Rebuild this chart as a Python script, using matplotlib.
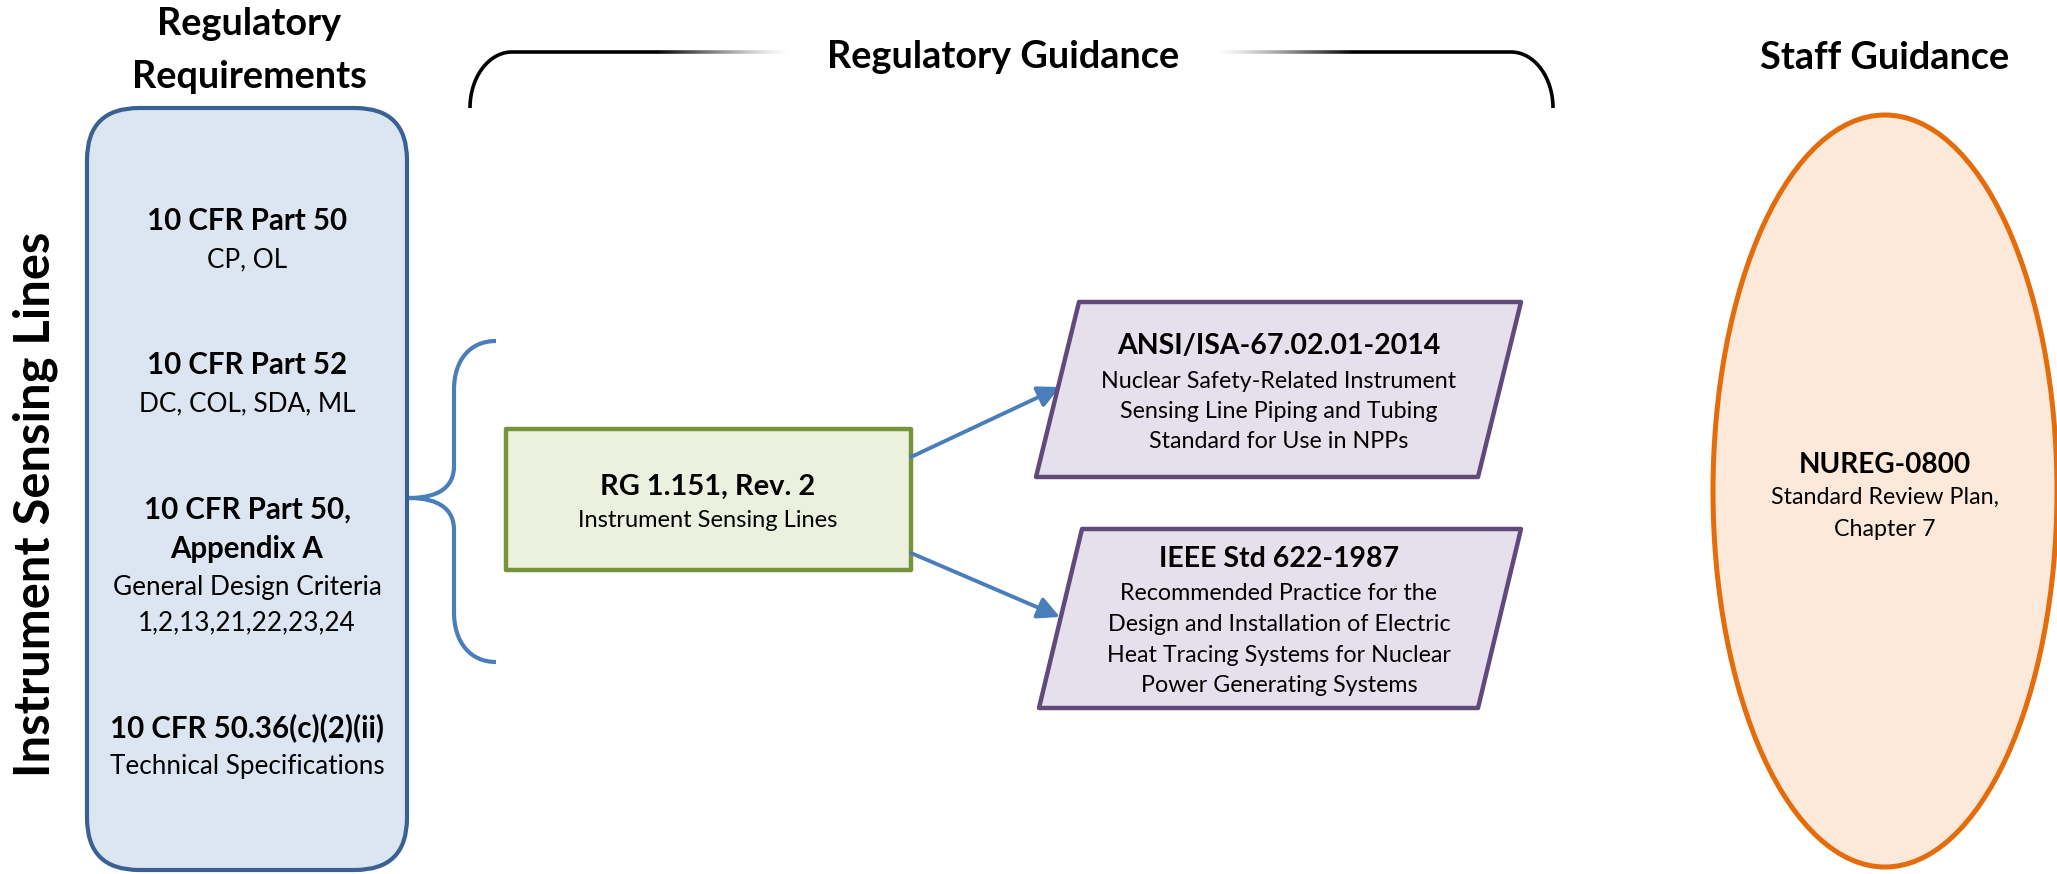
import matplotlib
matplotlib.use("Agg")
import matplotlib.pyplot as plt
import numpy as np
from matplotlib.patches import FancyBboxPatch, Rectangle, Polygon, Ellipse, FancyArrowPatch, PathPatch
from matplotlib.path import Path
from matplotlib.collections import LineCollection

plt.rcParams["font.family"] = ["Lato", "DejaVu Sans"]

# diagram content
SIDE_TITLE = "Instrument Sensing Lines"
REQ_HEADER = ["Regulatory", "Requirements"]
GUIDE_HEADER = "Regulatory Guidance"
STAFF_HEADER = "Staff Guidance"

REQ_TITLES = [["10 CFR Part 50"], ["10 CFR Part 52"], ["10 CFR Part 50,", "Appendix A"], ["10 CFR 50.36(c)(2)(ii)"]]
REQ_NOTES = [["CP, OL"], ["DC, COL, SDA, ML"], ["General Design Criteria", "1,2,13,21,22,23,24"],
             ["Technical Specifications"]]

RG_TITLE = "RG 1.151, Rev. 2"
RG_NOTE = "Instrument Sensing Lines"

STD_TITLES = ["ANSI/ISA-67.02.01-2014", "IEEE Std 622-1987"]
STD_NOTES = [["Nuclear Safety-Related Instrument", "Sensing Line Piping and Tubing", "Standard for Use in NPPs"],
             ["Recommended Practice for the", "Design and Installation of Electric",
              "Heat Tracing Systems for Nuclear", "Power Generating Systems"]]

SRP_TITLE = "NUREG-0800"
SRP_NOTE = ["Standard Review Plan,", "Chapter 7"]

# colours
BLUE_EDGE, BLUE_FILL = "#3A6194", "#DCE6F2"
GREEN_EDGE, GREEN_FILL = "#77933C", "#EBF1DE"
PURPLE_EDGE, PURPLE_FILL = "#604A7B", "#E5E0EC"
ORANGE_EDGE, ORANGE_FILL = "#E46C0A", "#FDE9D9"
CONNECTOR = "#4A7EBB"

W, H = 2057, 874
fig = plt.figure(figsize=(W / 100, H / 100), dpi=100)
ax = fig.add_axes([0, 0, 1, 1])
ax.set_xlim(0, W)
ax.set_ylim(H, 0)
ax.axis("off")
renderer = fig.canvas.get_renderer()


def fit(lines, widths, weight):
    # font size whose rendered width matches the reference (pixels)
    ratios = []
    for line, w in zip(lines, widths):
        t = ax.text(0, 0, line, fontsize=10, fontweight=weight)
        ratios.append(w / t.get_window_extent(renderer).width)
        t.remove()
    return 10 * np.mean(ratios)


def stack(x, y, lines, size, weight, step):
    for i, line in enumerate(lines):
        ax.text(x, y + i * step, line, ha="center", va="baseline", fontsize=size, fontweight=weight)
    return y + (len(lines) - 1) * step


fs_head = fit(REQ_HEADER + [GUIDE_HEADER, STAFF_HEADER], [190, 245, 366, 257], "bold") * 0.97
fs_side = fit([SIDE_TITLE], [547], "bold")
fs_req_b = fit(["10 CFR Part 50", "Appendix A", "10 CFR 50.36(c)(2)(ii)"], [193, 157, 280], "bold")
fs_req_n = fit(["DC, COL, SDA, ML", "General Design Criteria", "Technical Specifications"], [207, 272, 280], "normal")
fs_rg_b = fit([RG_TITLE], [215], "bold")
fs_rg_n = fit([RG_NOTE], [259], "normal")
fs_std_b = fit(STD_TITLES, [325, 240], "bold")
fs_std_n = fit(STD_NOTES[0] + STD_NOTES[1], [357, 317, 256, 320, 343, 342, 277], "normal")
fs_srp_b = fit([SRP_TITLE], [173], "bold")
fs_srp_n = fit(SRP_NOTE, [230, 101], "normal")

# headers
stack(249, 35, REQ_HEADER, fs_head, "bold", 53)
ax.text(1003, 68, GUIDE_HEADER, ha="center", va="baseline", fontsize=fs_head, fontweight="bold")
ax.text(1885, 69, STAFF_HEADER, ha="center", va="baseline", fontsize=fs_head, fontweight="bold")
ax.text(50, 504, SIDE_TITLE, rotation=90, rotation_mode="anchor", ha="center", va="baseline",
        fontsize=fs_side, fontweight="bold")

# requirements box
ax.add_patch(FancyBboxPatch((87, 108), 320, 762, boxstyle="round,pad=0,rounding_size=52",
                            fc=BLUE_FILL, ec=BLUE_EDGE, lw=3))
req_y = [230, 374, 519, 737]
for y, title, note in zip(req_y, REQ_TITLES, REQ_NOTES):
    last = stack(247, y, title, fs_req_b, "bold", 39)
    stack(247, last + 37, note, fs_req_n, "normal", 35)

# top bracket over the guidance column
t = np.linspace(np.pi, 1.5 * np.pi, 40)
ax.plot(np.r_[512 + 42 * np.cos(t), 656], np.r_[108 + 56 * np.sin(t), 52], color="black", lw=2.6,
        solid_capstyle="butt")
t2 = np.linspace(1.5 * np.pi, 2 * np.pi, 40)
ax.plot(np.r_[1355, 1511 + 42 * np.cos(t2)], np.r_[52, 108 + 56 * np.sin(t2)], color="black", lw=2.6,
        solid_capstyle="butt")
for x0, x1, flip in [(656, 790, False), (1215, 1355, True)]:
    xs = np.linspace(x0, x1, 80)
    segs = [[(xs[i], 52), (xs[i + 1], 52)] for i in range(len(xs) - 1)]
    a = np.linspace(1, 0, len(segs)) ** 1.3
    if flip:
        a = a[::-1]
    ax.add_collection(LineCollection(segs, colors=[(0, 0, 0, v) for v in a], linewidths=2.6,
                                     capstyle="butt"))

# curly brace
brace = Path([(496, 341), (470, 341), (454, 360), (454, 390),
              (454, 466),
              (454, 486), (440, 498), (409, 498),
              (440, 498), (454, 510), (454, 530),
              (454, 612),
              (454, 642), (470, 662), (496, 662)],
             [Path.MOVETO, Path.CURVE4, Path.CURVE4, Path.CURVE4,
              Path.LINETO,
              Path.CURVE4, Path.CURVE4, Path.CURVE4,
              Path.CURVE4, Path.CURVE4, Path.CURVE4,
              Path.LINETO,
              Path.CURVE4, Path.CURVE4, Path.CURVE4])
ax.add_patch(PathPatch(brace, fc="none", ec=CONNECTOR, lw=3))

# RG box
ax.add_patch(Rectangle((506, 429), 405, 141, fc=GREEN_FILL, ec=GREEN_EDGE, lw=3.2, joinstyle="round"))
ax.text(708, 495, RG_TITLE, ha="center", va="baseline", fontsize=fs_rg_b, fontweight="bold")
ax.text(708, 527, RG_NOTE, ha="center", va="baseline", fontsize=fs_rg_n)

# arrows to standards
for start, end in [((911, 457), (1060, 387)), ((911, 553), (1060, 617))]:
    ax.add_patch(FancyArrowPatch(start, end, arrowstyle="-|>,head_length=0.6,head_width=0.3",
                                 mutation_scale=22, color=CONNECTOR, lw=2.8, shrinkA=0, shrinkB=0))

# standards parallelograms
shapes = [[(1079, 302), (1521, 302), (1478, 477), (1036, 477)],
          [(1082, 529), (1521, 529), (1478, 708), (1039, 708)]]
title_y = [354, 567]
for pts, y, title, note in zip(shapes, title_y, STD_TITLES, STD_NOTES):
    ax.add_patch(Polygon(pts, closed=True, fc=PURPLE_FILL, ec=PURPLE_EDGE, lw=3.2, joinstyle="round"))
    ax.text(1279, y, title, ha="center", va="baseline", fontsize=fs_std_b, fontweight="bold")
    stack(1279, y + 33.5, note, fs_std_n, "normal", 30.5)

# staff guidance ellipse
ax.add_patch(Ellipse((1885, 491), 344, 752, fc=ORANGE_FILL, ec=ORANGE_EDGE, lw=3.6))
ax.text(1885, 473, SRP_TITLE, ha="center", va="baseline", fontsize=fs_srp_b, fontweight="bold")
stack(1885, 504, SRP_NOTE, fs_srp_n, "normal", 32)

fig.savefig("out.png", dpi=100)
